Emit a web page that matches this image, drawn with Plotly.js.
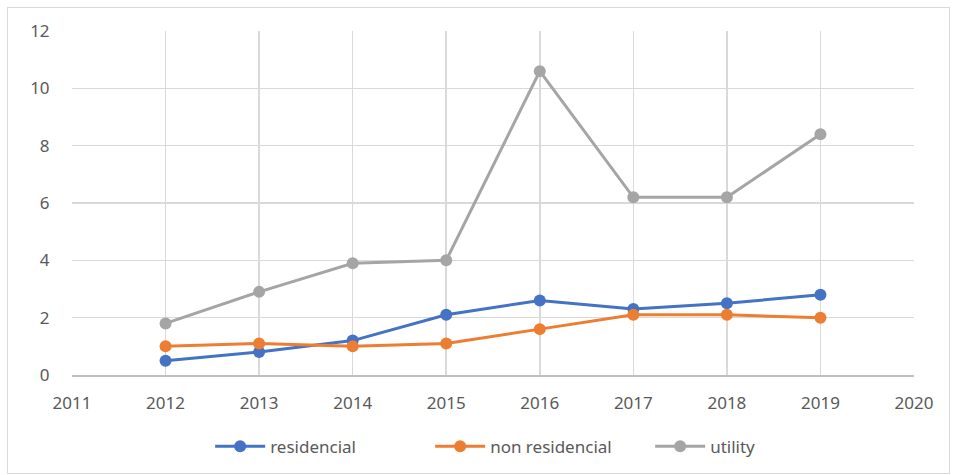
<!DOCTYPE html>
<html>
<head>
<meta charset="utf-8">
<script src="https://cdn.plot.ly/plotly-3.0.1.min.js"></script>
<style>
  html, body { margin: 0; padding: 0; background: #fff; }
  #chart { position: absolute; left: 0; top: 0; width: 956px; height: 475px; }
  #frame { position: absolute; left: 7px; top: 7px; width: 941px; height: 465px; border: 1px solid #d9d9d9; pointer-events: none; }
</style>
</head>
<body>
<div id="chart"></div>
<div id="frame"></div>
<script>
const years = [2012, 2013, 2014, 2015, 2016, 2017, 2018, 2019];
const residencial = [0.5, 0.8, 1.2, 2.1, 2.6, 2.3, 2.5, 2.8];
const nonResidencial = [1.0, 1.1, 1.0, 1.1, 1.6, 2.1, 2.1, 2.0];
const utility = [1.8, 2.9, 3.9, 4.0, 10.6, 6.2, 6.2, 8.4];
const xTicks = [2011, 2012, 2013, 2014, 2015, 2016, 2017, 2018, 2019, 2020];
const yTicks = [0, 2, 4, 6, 8, 10, 12];

function series(name, y, color) {
  return {
    x: years, y: y, name: name, type: 'scatter', mode: 'lines+markers',
    line: { color: color, width: 3 },
    marker: { color: color, size: 12 }
  };
}

const data = [
  series('residencial', residencial, '#4472C4'),
  series('non residencial', nonResidencial, '#ED7D31'),
  series('utility', utility, '#A5A5A5')
];

const layout = {
  width: 956, height: 475,
  margin: { l: 72, r: 42, t: 31, b: 99 },
  paper_bgcolor: '#ffffff', plot_bgcolor: '#ffffff',
  font: { family: 'Noto Sans, Open Sans, sans-serif', size: 16, color: '#595959' },
  showlegend: true,
  legend: { orientation: 'h', x: 0.556, xanchor: 'center', y: -0.205, yanchor: 'middle',
            font: { size: 17, color: '#595959' }, itemwidth: 50,
            entrywidth: 155, entrywidthmode: 'pixels' },
  xaxis: {
    range: [2011, 2020], tickmode: 'array', tickvals: xTicks, ticktext: xTicks.map(String),
    showgrid: true, gridcolor: '#d9d9d9', gridwidth: 1.5,
    zeroline: false, showline: true, linecolor: '#bfbfbf', linewidth: 1.5,
    ticks: 'outside', ticklen: 12, tickcolor: 'rgba(0,0,0,0)',
    tickfont: { size: 17, color: '#595959' }
  },
  yaxis: {
    range: [0, 12], tickmode: 'array', tickvals: yTicks, ticktext: yTicks.map(String),
    showgrid: true, gridcolor: '#d9d9d9', gridwidth: 1.5,
    zeroline: false, showline: false, ticks: 'outside', ticklen: 18, tickcolor: 'rgba(0,0,0,0)',
    tickfont: { size: 17, color: '#595959' }
  }
};

Plotly.newPlot('chart', data, layout, { displayModeBar: false, staticPlot: true });
</script>
</body>
</html>
